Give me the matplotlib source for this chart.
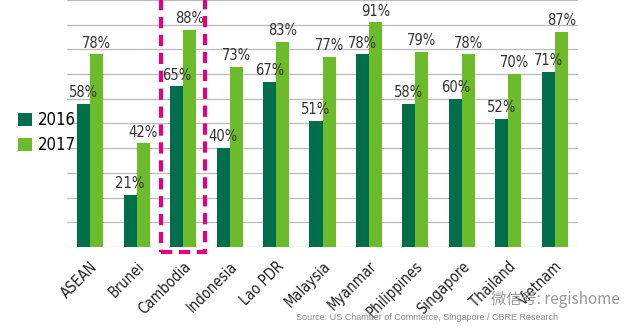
import matplotlib.pyplot as plt
from matplotlib.patches import Rectangle
from matplotlib import font_manager
import numpy as np

countries = ['ASEAN', 'Brunei', 'Cambodia', 'Indonesia', 'Lao PDR', 'Malaysia',
             'Myanmar', 'Philippines', 'Singapore', 'Thailand', 'Vietnam']
v2016 = [58, 21, 65, 40, 67, 51, 78, 58, 60, 52, 71]
v2017 = [78, 42, 88, 73, 83, 77, 91, 79, 78, 70, 87]

dark = '#006E4B'
light = '#6BBB2A'

narrow = font_manager.FontProperties(family='DejaVu Sans', stretch='condensed', size=10.5)

fig = plt.figure(figsize=(6.4, 3.28), dpi=100)
ax = fig.add_axes([67/640, 1 - 247/328, 511/640, 247/328])

x = np.arange(len(countries))
w = 0.28
b1 = ax.bar(x - w/2, v2016, w, color=dark, label='2016', zorder=3)
b2 = ax.bar(x + w/2, v2017, w, color=light, label='2017', zorder=3)

# value labels
for bars, vals in [(b1, v2016), (b2, v2017)]:
    for r, v in zip(bars, vals):
        ax.text(r.get_x() + r.get_width()/2, v + 1.5, f'{v}%', ha='center', va='bottom',
                fontproperties=narrow, color='#333333', zorder=4)

ax.set_xlim(-0.5, len(countries) - 0.5)
ax.set_ylim(0, 100)
ax.set_yticks(np.arange(0, 101, 10))
ax.yaxis.grid(True, color='#BBBBBB', lw=0.9, zorder=0)
ax.tick_params(left=False, labelleft=False, bottom=False)
for s in ax.spines.values():
    s.set_visible(False)
ax.set_xticks(x)
ax.set_xticklabels(countries, rotation=45, ha='right', rotation_mode='anchor',
                   fontproperties=narrow, color='#222222')
ax.tick_params(axis='x', pad=5)

# highlight box around Cambodia
box = Rectangle((2 - 0.5 + 0.02, -2), 0.94, 110, fill=False, edgecolor='#E5007D',
                lw=3, ls=(0, (2.7, 1.6)), clip_on=False, zorder=5)
ax.add_patch(box)

fig.legend(handles=[b1, b2], labels=['2016', '2017'], loc='upper left',
           bbox_to_anchor=(0.005, 1 - 96/328), frameon=False, handlelength=0.8,
           handleheight=0.8, handletextpad=0.4, labelspacing=0.45,
           prop=font_manager.FontProperties(family='DejaVu Sans', stretch='condensed', size=12))

fig.text(558/640, 1 - 317/328, 'Source: US Chamber of Commerce, Singapore / CBRE Research',
         ha='right', va='center', fontsize=6.5, color='#888888', family='Liberation Sans')
fig.text(620/640, 1 - 300/328, '微信号: regishome', ha='right', va='center', fontsize=11,
         color='#999999', family=['Noto Sans CJK SC', 'DejaVu Sans'])

fig.savefig('out.png', dpi=100)
